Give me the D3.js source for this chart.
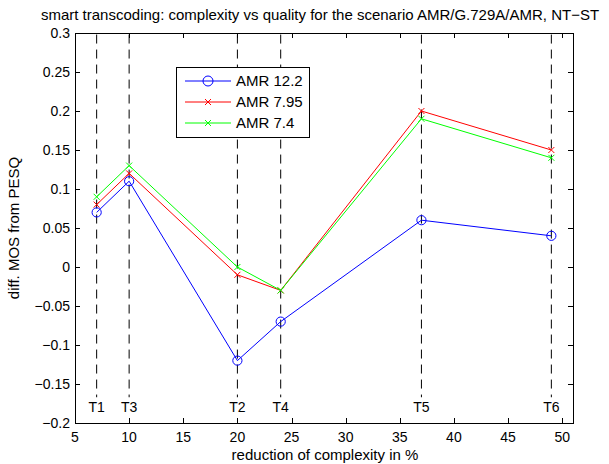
<!DOCTYPE html><html>
<head>
<meta charset="utf-8">
<style>
body { margin: 0; padding: 0; background-color: #ffffff; }
svg text { font-family: "Liberation Sans", Arial, Helvetica, sans-serif; fill: #000; }
.box { fill: none; stroke: #000; stroke-width: 1px; }
.tick { stroke: #000; stroke-width: 1px; }
.marker { stroke: #000; stroke-width: 1px; stroke-dasharray: 9,6; }
.series { fill: none; stroke-width: 1px; }
</style>
<script src="https://cdn.jsdelivr.net/npm/d3@7"></script>
</head>
<body>
<svg id="chart" width="609" height="464"></svg>
<script>
// data
var xs = [7, 10, 20, 24, 37, 49];
var amr122 = [0.07, 0.11, -0.12, -0.07, 0.06, 0.04];
var amr795 = [0.08, 0.12, -0.01, -0.03, 0.20, 0.15];
var amr74 = [0.09, 0.13, 0.00, -0.03, 0.19, 0.14];
var markerNames = ["T1", "T3", "T2", "T4", "T5", "T6"];
var xTicks = [5, 10, 15, 20, 25, 30, 35, 40, 45, 50];
var yTicks = [-0.2, -0.15, -0.1, -0.05, 0, 0.05, 0.1, 0.15, 0.2, 0.25, 0.3];

var series = [
    { name: "AMR 12.2", values: amr122, color: "#0000ff", sym: "o" },
    { name: "AMR 7.95", values: amr795, color: "#ff0000", sym: "x" },
    { name: "AMR 7.4", values: amr74, color: "#00ff00", sym: "x" }
];

var svg = d3.select("svg#chart");
// plot box in px (note: "top" is a reserved window global, so px* names)
var pxLeft = 75, pxRight = 573, pxTop = 33, pxBottom = 423;

var x = d3.scaleLinear().domain([5, 51]).range([pxLeft, pxRight]);
var y = d3.scaleLinear().domain([-0.2, 0.3]).range([pxBottom, pxTop]);
var fs = 15, tickFs = 14;

// title
svg.append("text")
    .attr("x", 320).attr("y", 20)
    .attr("text-anchor", "middle").style("font-size", fs + "px")
    .text("smart transcoding: complexity vs quality for the scenario AMR/G.729A/AMR, NT\u2212ST");

// dashed T-lines with labels
var g = svg.append("g");
g.selectAll("line.marker").data(xs).enter().append("line")
    .attr("class", "marker")
    .attr("x1", d => x(d)).attr("x2", d => x(d))
    .attr("y1", y(0.298)).attr("y2", y(-0.167));
g.selectAll("text.tname").data(xs).enter().append("text")
    .attr("class", "tname")
    .attr("x", d => x(d)).attr("y", y(-0.186))
    .attr("text-anchor", "middle").style("font-size", tickFs + "px")
    .text((d, i) => markerNames[i]);

function drawSym(sel, s, cx, cy, r) {
    if (s.sym == "o") {
        sel.append("circle").attr("cx", cx).attr("cy", cy).attr("r", r)
            .style("fill", "none").style("stroke", s.color).style("stroke-width", 1);
    } else {
        var h = 3;
        sel.append("path")
            .attr("d", "M" + (cx - h) + "," + (cy - h) + "L" + (cx + h) + "," + (cy + h) +
                       "M" + (cx - h) + "," + (cy + h) + "L" + (cx + h) + "," + (cy - h))
            .style("stroke", s.color).style("stroke-width", 1);
    }
}

// series lines + markers
var line = d3.line().x((d, i) => x(xs[i])).y(d => y(d));
series.forEach(function(s) {
    g.append("path").attr("class", "series")
        .attr("d", line(s.values)).style("stroke", s.color);
    s.values.forEach(function(v, i) {
        drawSym(g, s, x(xs[i]), y(v), 4.6);
    });
});

// axes box and inward ticks (all four sides)
var ax = svg.append("g");
var tl = 5;
xTicks.forEach(function(t) {
    var px = Math.round(x(t)) + 0.5;
    ax.append("line").attr("class", "tick").attr("x1", px).attr("x2", px)
        .attr("y1", pxBottom).attr("y2", pxBottom - tl);
    ax.append("line").attr("class", "tick").attr("x1", px).attr("x2", px)
        .attr("y1", pxTop).attr("y2", pxTop + tl);
    ax.append("text").attr("x", x(t)).attr("y", 442)
        .attr("text-anchor", "middle").style("font-size", tickFs + "px")
        .text(t);
});
yTicks.forEach(function(t) {
    var py = Math.round(y(t)) + 0.5;
    ax.append("line").attr("class", "tick").attr("x1", pxLeft).attr("x2", pxLeft + tl)
        .attr("y1", py).attr("y2", py);
    ax.append("line").attr("class", "tick").attr("x1", pxRight).attr("x2", pxRight - tl)
        .attr("y1", py).attr("y2", py);
    ax.append("text").attr("x", pxLeft - 5).attr("y", y(t) + 5)
        .attr("text-anchor", "end").style("font-size", tickFs + "px")
        .text(d3.format("")(t).replace("-", "\u2212"));
});
ax.append("rect").attr("class", "box")
    .attr("x", pxLeft + 0.5).attr("y", pxTop + 0.5)
    .attr("width", pxRight - pxLeft).attr("height", pxBottom - pxTop);

// axis labels
svg.append("text")
    .attr("x", 325).attr("y", 460)
    .attr("text-anchor", "middle").style("font-size", fs + "px")
    .text("reduction of complexity in %");
svg.append("text")
    .attr("transform", "translate(19," + ((pxTop + pxBottom) / 2) + ") rotate(-90)")
    .attr("text-anchor", "middle").style("font-size", fs + "px")
    .text("diff. MOS from PESQ");

// legend
var lg = svg.append("g");
lg.append("rect").attr("x", 176.5).attr("y", 67.5).attr("width", 133).attr("height", 70)
    .style("fill", "#fff").style("stroke", "#000").style("stroke-width", 1);
series.forEach(function(s, i) {
    var ly = 81 + i * 21;
    lg.append("line").attr("x1", 185).attr("x2", 231).attr("y1", ly).attr("y2", ly)
        .style("stroke", s.color).style("stroke-width", 1);
    drawSym(lg, s, 208, ly, 5);
    lg.append("text").attr("x", 236).attr("y", ly + 5)
        .style("font-size", fs + "px").text(s.name);
});
</script>
</body>
</html>
